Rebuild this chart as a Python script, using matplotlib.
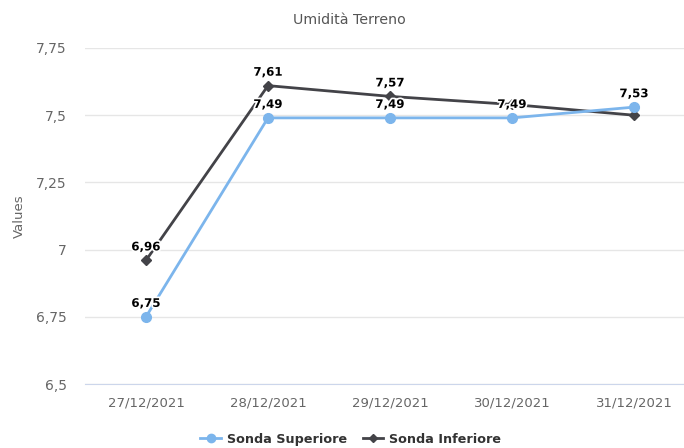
import matplotlib
matplotlib.use("Agg")
import matplotlib.pyplot as plt
import matplotlib.patheffects as pe
from matplotlib.lines import Line2D

plt.rcParams['font.family'] = ['DejaVu Sans']

title = "Umidità Terreno"
categories = ["27/12/2021", "28/12/2021", "29/12/2021", "30/12/2021", "31/12/2021"]
superiore = [6.75, 7.49, 7.49, 7.49, 7.53]
inferiore = [6.96, 7.61, 7.57, 7.54, 7.50]
series_names = ["Sonda Superiore", "Sonda Inferiore"]
yticks = [6.5, 6.75, 7.0, 7.25, 7.5, 7.75]
# labels visible in the reference (others hidden by overlap)
show_sup = [True, True, True, True, True]
show_inf = [True, True, True, False, False]

def fmt(v):
    s = ("%.2f" % v).rstrip('0').rstrip('.')
    return s.replace('.', ',')

fig = plt.figure(figsize=(6.84, 4.48), dpi=100)
ax = fig.add_axes([85/684, 64/448, 599/684, 336/448])

x = list(range(len(categories)))
c1 = '#7cb5ec'
c2 = '#434348'
ax.plot(x, inferiore, color=c2, lw=2, marker='D', ms=5, zorder=3)
ax.plot(x, superiore, color=c1, lw=2, marker='o', ms=7, zorder=4)

outline = [pe.withStroke(linewidth=2.5, foreground='white')]
for vals, show in ((superiore, show_sup), (inferiore, show_inf)):
    for xi, v, s in zip(x, vals, show):
        if s:
            ax.annotate(fmt(v), (xi, v), xytext=(0, 5), textcoords='offset points',
                        ha='center', va='bottom', fontsize=8.5, fontweight='bold',
                        color='#000000', path_effects=outline, zorder=6)

ax.set_xlim(-0.5, 4.41)
ax.set_ylim(6.5, 7.75)
ax.set_yticks(yticks)
ax.set_yticklabels([fmt(v) for v in yticks])
ax.set_xticks(x)
ax.set_xticklabels(categories)
ax.grid(axis='y', color='#e6e6e6', lw=1)
ax.set_axisbelow(True)
for s in ['top', 'right', 'left']:
    ax.spines[s].set_visible(False)
ax.spines['bottom'].set_color('#ccd6eb')
ax.tick_params(axis='both', length=0, colors='#666666', labelsize=9.5)
ax.tick_params(axis='y', labelsize=10, pad=13)
ax.tick_params(axis='x', pad=9)
ax.set_ylabel("Values", color='#666666', fontsize=9.5)
ax.yaxis.set_label_coords(-(85 - 26) / 599, 0.5)

fig.text(293/684, 1 - 20/448, title, ha='left', va='center', fontsize=10.2, color='#555555')

handles = [Line2D([], [], color=c1, lw=2, marker='o', ms=6),
           Line2D([], [], color=c2, lw=2, marker='D', ms=4)]
leg = fig.legend(handles, series_names, loc='center', bbox_to_anchor=(0.513, 1 - 439/448),
                 ncol=2, frameon=False, prop={'weight': 'bold', 'size': 9.2},
                 handlelength=1.6, columnspacing=1.2, handletextpad=0.5)
for t in leg.get_texts():
    t.set_color('#333333')

fig.savefig('out.png', dpi=100)
